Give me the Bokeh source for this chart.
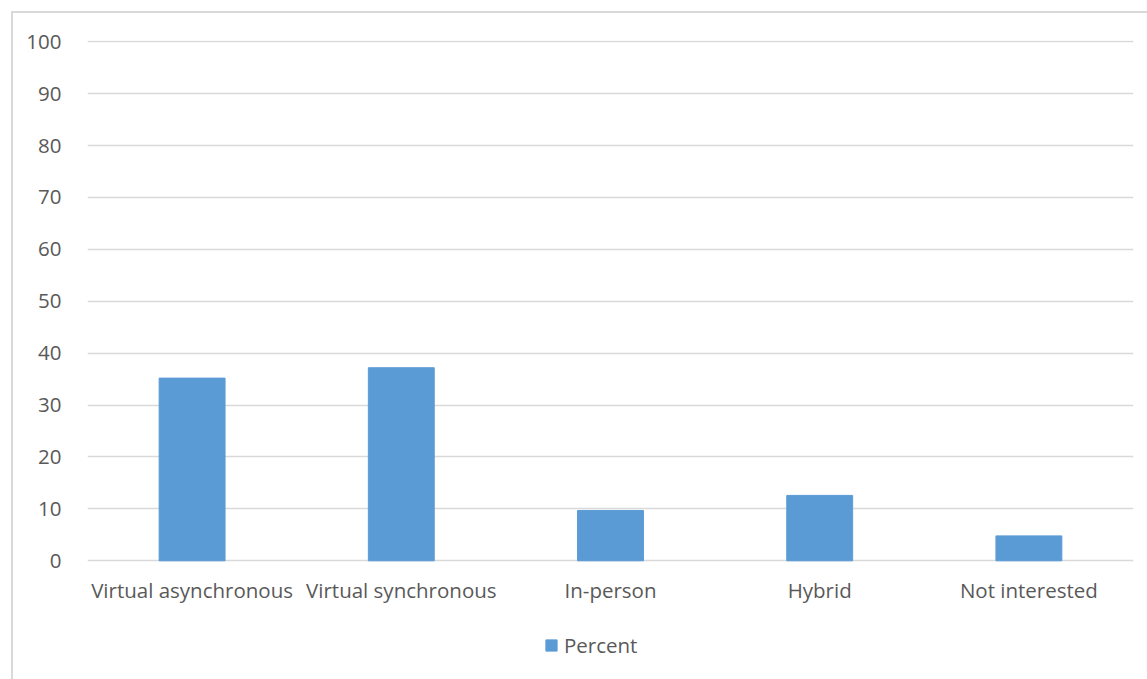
from bokeh.plotting import figure
from bokeh.models import ColumnDataSource, Range1d, FixedTicker, Legend, LegendItem
from bokeh.embed import file_html
from bokeh.resources import INLINE

# Preferred delivery format for the course (percent of respondents)
categories = ["Virtual asynchronous", "Virtual synchronous", "In-person", "Hybrid", "Not interested"]
percent = [35.2, 37.2, 9.7, 12.6, 4.8]
y_ticks = [0, 10, 20, 30, 40, 50, 60, 70, 80, 90, 100]

BAR = "#5B9BD5"
TEXT = "#595959"
GRID = "#D9D9D9"
FONT = "Open Sans"

# Frame geometry: the value axis runs 0..100 over ~519 px; the frame continues
# below zero so the legend can sit under the category labels.
FRAME_H = 660
PX_PER_UNIT = 5.19
Y_TOP = 100.25
Y_BOTTOM = Y_TOP - FRAME_H / PX_PER_UNIT

source = ColumnDataSource(data=dict(category=categories, percent=percent))

p = figure(
    x_range=categories,
    y_range=Range1d(Y_BOTTOM, Y_TOP),
    frame_width=1046,
    frame_height=FRAME_H,
    output_backend="svg",
    toolbar_location=None,
    min_border_left=74,
    min_border_right=14,
    min_border_top=27,
    min_border_bottom=10,
    margin=(11, 0, 0, 11),
)
p.styles = {"border-left": "2px solid #D9D9D9", "border-top": "2px solid #D9D9D9"}

bars = p.vbar(x="category", top="percent", bottom=0, width=0.315, source=source,
              fill_color=BAR, line_color=BAR)

p.outline_line_color = None
p.background_fill_color = "white"
p.border_fill_color = "white"

ticker = FixedTicker(ticks=y_ticks)
p.yaxis.ticker = ticker
p.ygrid.ticker = ticker
p.xgrid.grid_line_color = None
p.ygrid.grid_line_color = GRID
p.ygrid.grid_line_width = 1.5

for ax in (p.xaxis, p.yaxis):
    ax.axis_line_color = None
    ax.major_tick_line_color = None
    ax.minor_tick_line_color = None
    ax.major_label_text_font = FONT
    ax.major_label_text_font_size = "20.5px"
    ax.major_label_text_color = TEXT

p.yaxis.major_label_standoff = 20
p.xaxis.fixed_location = 0
p.xaxis.major_label_standoff = 9
p.x_range.range_padding = 0.0

legend = Legend(
    items=[LegendItem(label="Percent", renderers=[bars])],
    location=(457, 41),
    orientation="horizontal",
    border_line_color=None,
    background_fill_alpha=0,
    padding=0,
    margin=0,
    glyph_width=14,
    glyph_height=14,
    label_height=14,
    label_standoff=6,
    label_text_font=FONT,
    label_text_font_size="20.5px",
    label_text_color=TEXT,
)
p.add_layout(legend, "center")

open("out.html", "w").write(file_html(p, INLINE))
